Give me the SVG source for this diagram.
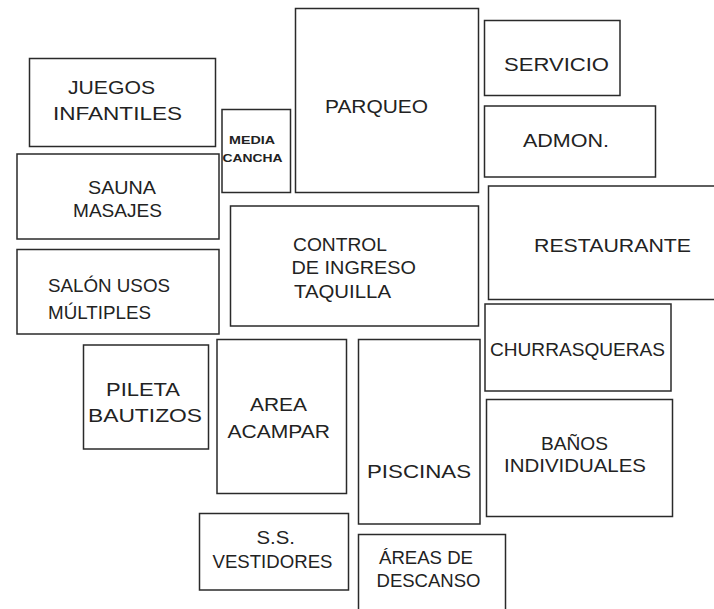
<svg xmlns="http://www.w3.org/2000/svg" width="714" height="609" viewBox="0 0 714 609">
<style>
rect.b{fill:#fff;stroke:#2a2a2a;stroke-width:1.5}
text{font-family:"Liberation Sans",Arial,sans-serif;font-size:19px;fill:#222}
text.s{font-size:11px;font-weight:bold}
</style>
<rect width="714" height="609" fill="#fff"/>
<g id="juegos"><rect class="b" x="29.5" y="58.5" width="186" height="88"/>
<text x="68" y="94" textLength="87" lengthAdjust="spacingAndGlyphs">JUEGOS</text>
<text x="53" y="120" textLength="129" lengthAdjust="spacingAndGlyphs">INFANTILES</text></g>
<g id="media-cancha"><rect class="b" x="222" y="109.5" width="68.5" height="83"/>
<text class="s" x="229" y="144" textLength="46" lengthAdjust="spacingAndGlyphs">MEDIA</text>
<text class="s" x="222.5" y="161.5" textLength="60" lengthAdjust="spacingAndGlyphs">CANCHA</text></g>
<g id="parqueo"><rect class="b" x="295.5" y="8.5" width="183" height="184"/>
<text x="325" y="113" textLength="103" lengthAdjust="spacingAndGlyphs">PARQUEO</text></g>
<g id="servicio"><rect class="b" x="484.5" y="20.5" width="135.5" height="75"/>
<text x="504" y="71" textLength="105" lengthAdjust="spacingAndGlyphs">SERVICIO</text></g>
<g id="admon"><rect class="b" x="484.5" y="106" width="171" height="71"/>
<text x="523" y="147" textLength="86" lengthAdjust="spacingAndGlyphs">ADMON.</text></g>
<g id="sauna"><rect class="b" x="17" y="154" width="202" height="85"/>
<text x="88" y="193.5" textLength="68" lengthAdjust="spacingAndGlyphs">SAUNA</text>
<text x="73" y="216.5" textLength="89" lengthAdjust="spacingAndGlyphs">MASAJES</text></g>
<g id="control"><rect class="b" x="230.5" y="206" width="248" height="120"/>
<text x="293" y="251" textLength="94" lengthAdjust="spacingAndGlyphs">CONTROL</text>
<text x="291.5" y="273.5" textLength="124.5" lengthAdjust="spacingAndGlyphs">DE INGRESO</text>
<text x="294" y="297.5" textLength="97" lengthAdjust="spacingAndGlyphs">TAQUILLA</text></g>
<g id="restaurante"><rect class="b" x="488.5" y="186" width="230" height="113.5"/>
<text x="534" y="251.5" textLength="157" lengthAdjust="spacingAndGlyphs">RESTAURANTE</text></g>
<g id="salon"><rect class="b" x="17" y="249.5" width="202" height="84.5"/>
<text x="48" y="291.5" textLength="122" lengthAdjust="spacingAndGlyphs">SALÓN USOS</text>
<text x="48" y="318.5" textLength="103" lengthAdjust="spacingAndGlyphs">MÚLTIPLES</text></g>
<g id="churrasqueras"><rect class="b" x="485" y="304" width="186" height="87"/>
<text x="490" y="355.5" textLength="175" lengthAdjust="spacingAndGlyphs">CHURRASQUERAS</text></g>
<g id="pileta"><rect class="b" x="83.5" y="345" width="125" height="104"/>
<text x="106" y="395.5" textLength="74" lengthAdjust="spacingAndGlyphs">PILETA</text>
<text x="88" y="421.5" textLength="114" lengthAdjust="spacingAndGlyphs">BAUTIZOS</text></g>
<g id="acampar"><rect class="b" x="217" y="339.5" width="129.5" height="154"/>
<text x="250" y="411" textLength="57" lengthAdjust="spacingAndGlyphs">AREA</text>
<text x="227.5" y="437.5" textLength="102.5" lengthAdjust="spacingAndGlyphs">ACAMPAR</text></g>
<g id="piscinas"><rect class="b" x="358.5" y="339.5" width="121.5" height="184.5"/>
<text x="367" y="477.5" textLength="104" lengthAdjust="spacingAndGlyphs">PISCINAS</text></g>
<g id="banos"><rect class="b" x="486.5" y="399.5" width="186" height="117"/>
<text x="541" y="450" textLength="67" lengthAdjust="spacingAndGlyphs">BAÑOS</text>
<text x="504" y="471.5" textLength="142" lengthAdjust="spacingAndGlyphs">INDIVIDUALES</text></g>
<g id="vestidores"><rect class="b" x="199.5" y="513.5" width="149" height="76.5"/>
<text x="256.5" y="543.5" textLength="38.5" lengthAdjust="spacingAndGlyphs">S.S.</text>
<text x="212.5" y="567.5" textLength="120" lengthAdjust="spacingAndGlyphs">VESTIDORES</text></g>
<g id="descanso"><rect class="b" x="358.5" y="534.5" width="147" height="80"/>
<text x="379" y="563.5" textLength="94" lengthAdjust="spacingAndGlyphs">ÁREAS DE</text>
<text x="376.5" y="586.5" textLength="104" lengthAdjust="spacingAndGlyphs">DESCANSO</text></g>
<g id="connectors"/>
</svg>
